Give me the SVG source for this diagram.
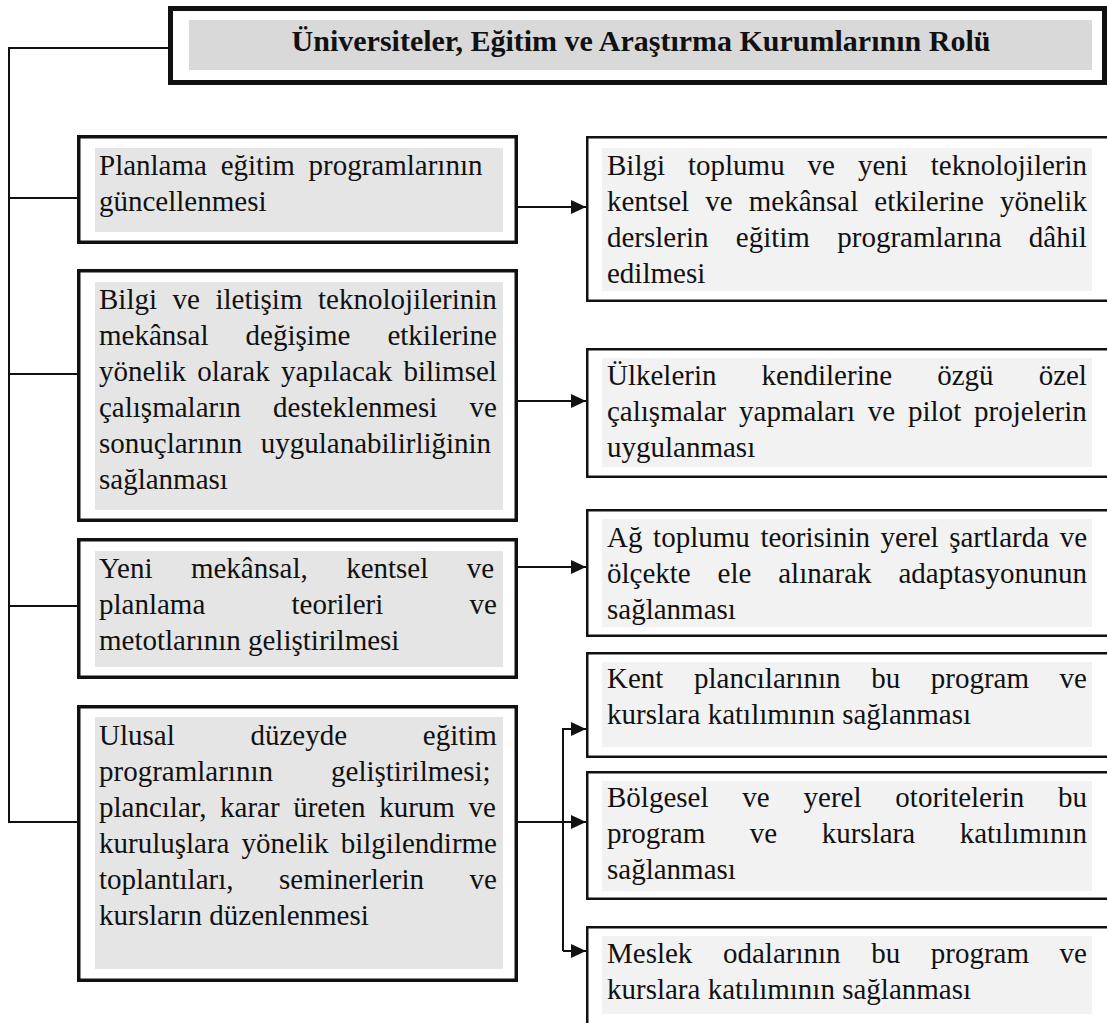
<svg xmlns="http://www.w3.org/2000/svg" width="1107" height="1023" viewBox="0 0 1107 1023">
<style>
.t{font-family:"Liberation Serif","Times New Roman",serif;font-size:29px;fill:#111}
.title{font-family:"Liberation Serif","Times New Roman",serif;font-size:30px;font-weight:bold;fill:#111}
.lb{fill:#fff;stroke:#111;stroke-width:3.5}
.rb{fill:#fff;stroke:#111;stroke-width:2.5}
.lg{fill:#e5e5e5}
.rg{fill:#f2f2f2}
.c{fill:none;stroke:#111;stroke-width:2}
</style>
<defs>
<marker id="ah" markerUnits="userSpaceOnUse" markerWidth="16" markerHeight="16" refX="15" refY="8" orient="auto">
<path d="M0,1 L15,8 L0,15 Z" fill="#111"/>
</marker>
</defs>
<rect width="1107" height="1023" fill="#fff"/>

<g id="title">
<rect x="170.5" y="8.5" width="934" height="74" fill="#fff" stroke="#111" stroke-width="5"/>
<rect x="189" y="20" width="903" height="50" fill="#d9d9d9"/>
<text class="title" x="641" y="51" text-anchor="middle">Üniversiteler, Eğitim ve Araştırma Kurumlarının Rolü</text>
</g>

<g id="connectors">
<path class="c" d="M9,48 H168 M9,47 V823 M9,198 H77 M9,374 H77 M9,606 H77 M9,822 H77"/>
<path class="c" d="M518,207 H586" marker-end="url(#ah)"/>
<path class="c" d="M518,401 H586" marker-end="url(#ah)"/>
<path class="c" d="M518,567 H586" marker-end="url(#ah)"/>
<path class="c" d="M518,822 H586" marker-end="url(#ah)"/>
<path class="c" d="M563,951 V729 H586" marker-end="url(#ah)"/>
<path class="c" d="M563,951 H586" marker-end="url(#ah)"/>
</g>

<g id="left1">
<rect class="lb" x="78.75" y="136.75" width="437.5" height="105.5"/>
<rect class="lg" x="95" y="148" width="408" height="84"/>
<text class="t" x="99" y="175" word-spacing="6.5">Planlama eğitim programlarının</text>
<text class="t" x="99" y="211">güncellenmesi</text>
</g>

<g id="left2">
<rect class="lb" x="78.75" y="270.75" width="437.5" height="249.5"/>
<rect class="lg" x="95" y="282" width="408" height="228"/>
<text class="t" x="99" y="309" word-spacing="8.3">Bilgi ve iletişim teknolojilerinin</text>
<text class="t" x="99" y="345" word-spacing="29.85">mekânsal değişime etkilerine</text>
<text class="t" x="99" y="381" word-spacing="4.05">yönelik olarak yapılacak bilimsel</text>
<text class="t" x="99" y="417" word-spacing="25.05">çalışmaların desteklenmesi ve</text>
<text class="t" x="99" y="453" word-spacing="11.15">sonuçlarının uygulanabilirliğinin</text>
<text class="t" x="99" y="489">sağlanması</text>
</g>

<g id="left3">
<rect class="lb" x="78.75" y="539.75" width="437.5" height="137.5"/>
<rect class="lg" x="95" y="551" width="408" height="116"/>
<text class="t" x="99" y="578" word-spacing="31.2">Yeni mekânsal, kentsel ve</text>
<text class="t" x="99" y="614" word-spacing="79">planlama teorileri ve</text>
<text class="t" x="99" y="650">metotlarının geliştirilmesi</text>
</g>

<g id="left4">
<rect class="lb" x="78.75" y="706.75" width="437.5" height="273.5"/>
<rect class="lg" x="95" y="717" width="408" height="252"/>
<text class="t" x="99" y="745" word-spacing="68.5">Ulusal düzeyde eğitim</text>
<text class="t" x="99" y="781" word-spacing="50.85">programlarının geliştirilmesi;</text>
<text class="t" x="99" y="817" word-spacing="6.28">plancılar, karar üreten kurum ve</text>
<text class="t" x="99" y="853" word-spacing="4.9">kuruluşlara yönelik bilgilendirme</text>
<text class="t" x="99" y="889" word-spacing="38.3">toplantıları, seminerlerin ve</text>
<text class="t" x="99" y="925">kursların düzenlenmesi</text>
</g>

<g id="right1">
<rect class="rb" x="587.25" y="137.25" width="530" height="163.5"/>
<rect class="rg" x="602" y="148" width="490" height="143"/>
<text class="t" x="607" y="175" word-spacing="15.7">Bilgi toplumu ve yeni teknolojilerin</text>
<text class="t" x="607" y="211" word-spacing="8.85">kentsel ve mekânsal etkilerine yönelik</text>
<text class="t" x="607" y="247" word-spacing="20.1">derslerin eğitim programlarına dâhil</text>
<text class="t" x="607" y="283">edilmesi</text>
</g>

<g id="right2">
<rect class="rb" x="587.25" y="349.25" width="530" height="127.5"/>
<rect class="rg" x="602" y="358" width="490" height="109"/>
<text class="t" x="607" y="385" word-spacing="37.85">Ülkelerin kendilerine özgü özel</text>
<text class="t" x="607" y="421" word-spacing="5.6">çalışmalar yapmaları ve pilot projelerin</text>
<text class="t" x="607" y="457">uygulanması</text>
</g>

<g id="right3">
<rect class="rb" x="587.25" y="510.25" width="530" height="125.5"/>
<rect class="rg" x="602" y="519" width="490" height="108"/>
<text class="t" x="607" y="547" word-spacing="3.4">Ağ toplumu teorisinin yerel şartlarda ve</text>
<text class="t" x="607" y="583" word-spacing="19.6">ölçekte ele alınarak adaptasyonunun</text>
<text class="t" x="607" y="619">sağlanması</text>
</g>

<g id="right4">
<rect class="rb" x="587.25" y="653.25" width="530" height="103.5"/>
<rect class="rg" x="602" y="662" width="490" height="85"/>
<text class="t" x="607" y="688" word-spacing="23.35">Kent plancılarının bu program ve</text>
<text class="t" x="607" y="724">kurslara katılımının sağlanması</text>
</g>

<g id="right5">
<rect class="rb" x="587.25" y="772.25" width="530" height="126.5"/>
<rect class="rg" x="602" y="781" width="490" height="110"/>
<text class="t" x="607" y="807" word-spacing="26.6">Bölgesel ve yerel otoritelerin bu</text>
<text class="t" x="607" y="843" word-spacing="37.3">program ve kurslara katılımının</text>
<text class="t" x="607" y="879">sağlanması</text>
</g>

<g id="right6">
<rect class="rb" x="587.25" y="927.25" width="530" height="110"/>
<rect class="rg" x="602" y="936" width="490" height="78"/>
<text class="t" x="607" y="963" word-spacing="23.35">Meslek odalarının bu program ve</text>
<text class="t" x="607" y="999">kurslara katılımının sağlanması</text>
</g>
</svg>
